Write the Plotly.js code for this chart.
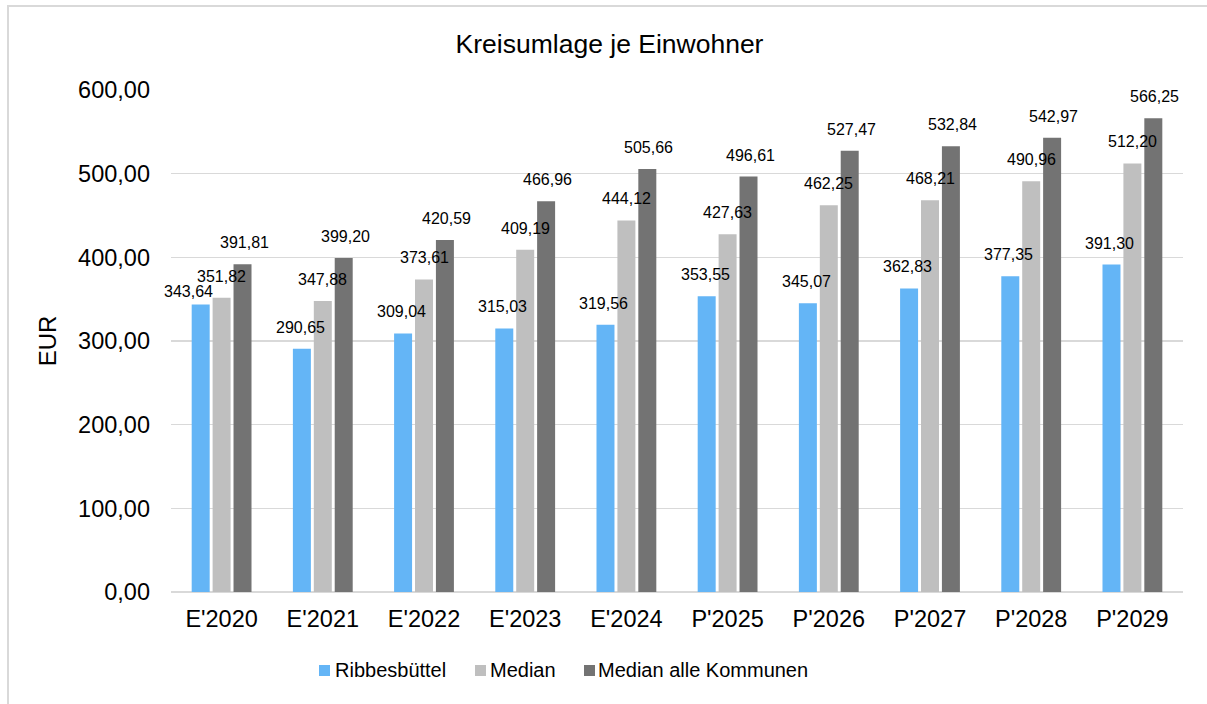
<!DOCTYPE html>
<html>
<head>
<meta charset="utf-8">
<script src="https://cdn.plot.ly/plotly-3.0.1.min.js"></script>
<style>
  html, body { margin: 0; padding: 0; background: #ffffff; }
  #frame { position: absolute; left: 7px; top: 5px; width: 1200px; height: 699px;
           border-top: 2px solid #d9d9d9; border-left: 2px solid #d9d9d9; box-sizing: border-box; }
  #chart { position: absolute; left: 0; top: 0; width: 1207px; height: 704px; }
</style>
</head>
<body>
<div id="frame"></div>
<div id="chart"></div>
<script>
const categories = ["E'2020", "E'2021", "E'2022", "E'2023", "E'2024", "P'2025", "P'2026", "P'2027", "P'2028", "P'2029"];
const ribbesbuettel = [343.64, 290.65, 309.04, 315.03, 319.56, 353.55, 345.07, 362.83, 377.35, 391.30];
const median = [351.82, 347.88, 373.61, 409.19, 444.12, 427.63, 462.25, 468.21, 490.96, 512.20];
const medianAlle = [391.81, 399.20, 420.59, 466.96, 505.66, 496.61, 527.47, 532.84, 542.97, 566.25];
const seriesNames = ["Ribbesbüttel", "Median", "Median alle Kommunen"];
const yTickVals = [0, 100, 200, 300, 400, 500, 600];

function fmt(v) { return v.toFixed(2).replace('.', ','); }

const colors = ["#64b5f6", "#bfbfbf", "#737373"];
const seriesData = [ribbesbuettel, median, medianAlle];

// plot-area geometry (pixels)
const W = 1207, H = 704;
const M = { l: 171, r: 24, t: 90, b: 112 };
const PW = W - M.l - M.r, PH = H - M.t - M.b;
const px2x = p => (p - M.l) / PW;
const py2y = p => (H - M.b - p) / PH;

const traces = seriesData.map((vals, i) => ({
  type: 'bar',
  name: seriesNames[i],
  x: categories,
  y: vals,
  marker: { color: colors[i] },
  hoverinfo: 'x+y+name',
  showlegend: false
}));

// data labels as annotations (drawn above all bars)
const slotOffsets = [-22.5, 0, 22.5];
const annotations = [];
seriesData.forEach((vals, i) => {
  vals.forEach((v, j) => {
    let xs = slotOffsets[i], ys = 11;
    if (i === 0 && j === 0) { xs = -33.5; ys = 2; } // shifted in the reference to avoid overlap
    annotations.push({
      xref: 'x', yref: 'y', x: categories[j], y: v,
      text: fmt(v), showarrow: false,
      xanchor: 'center', yanchor: 'bottom',
      xshift: xs, yshift: ys,
      font: { size: 16, color: '#000000' }
    });
  });
});

// custom legend (square + text, tight spacing like the reference)
const legendSymbolPx = [[319, 330], [475, 486], [584, 595]];
const legendTextPx = [333, 488, 596];
const shapes = [];
seriesNames.forEach((name, i) => {
  shapes.push({
    type: 'rect', xref: 'paper', yref: 'paper',
    x0: px2x(legendSymbolPx[i][0]), x1: px2x(legendSymbolPx[i][1]),
    y0: py2y(665), y1: py2y(676),
    fillcolor: colors[i], line: { width: 0 }
  });
  annotations.push({
    xref: 'paper', yref: 'paper', x: px2x(legendTextPx[i]), y: py2y(670),
    xanchor: 'left', yanchor: 'middle', showarrow: false,
    text: name, font: { size: 20, color: '#000000' }
  });
});

const layout = {
  width: W,
  height: H,
  paper_bgcolor: 'rgba(0,0,0,0)',
  plot_bgcolor: 'rgba(0,0,0,0)',
  font: { family: 'Liberation Sans, Arial, sans-serif', color: '#000000' },
  margin: M,
  title: {
    text: 'Kreisumlage je Einwohner',
    font: { size: 26.5, color: '#000000' },
    x: 0.505, xanchor: 'center',
    y: 0.938, yanchor: 'middle'
  },
  barmode: 'group',
  bargap: 0.38,
  bargroupgap: 0.14,
  xaxis: {
    type: 'category',
    range: [-0.5, categories.length - 0.5],
    autorange: false,
    automargin: false,
    tickfont: { size: 23.5 },
    showgrid: false,
    showline: false,
    ticks: '',
    ticklabelstandoff: 10
  },
  yaxis: {
    range: [0, 600],
    autorange: false,
    automargin: false,
    tickvals: yTickVals,
    ticktext: yTickVals.map(fmt),
    tickfont: { size: 23.5 },
    showgrid: true,
    gridcolor: '#d9d9d9',
    gridwidth: 1.5,
    zeroline: true,
    zerolinecolor: '#d9d9d9',
    zerolinewidth: 1.5,
    showline: false,
    ticks: '',
    ticklabelstandoff: 20,
    title: { text: 'EUR', font: { size: 24 }, standoff: 14 }
  },
  shapes: shapes,
  annotations: annotations,
  showlegend: false
};

Plotly.newPlot('chart', traces, layout, { displayModeBar: false, staticPlot: true });
</script>
</body>
</html>
